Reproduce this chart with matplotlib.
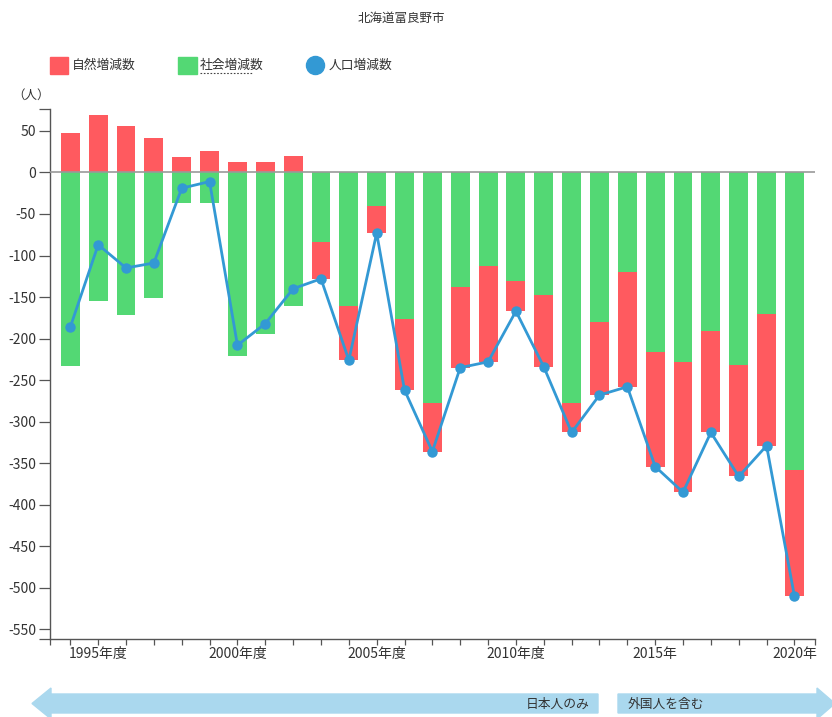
import numpy as np
import matplotlib.pyplot as plt
from matplotlib.patches import Rectangle, Polygon
from matplotlib.lines import Line2D

plt.rcParams['font.family'] = ['Noto Sans CJK JP', 'DejaVu Sans']
plt.rcParams['axes.unicode_minus'] = False

# data
years = list(range(1994, 2021))
natural = [47, 69, 56, 42, 18, 26, 13, 12, 20, -44, -65, -32, -85, -58,
           -97, -115, -36, -87, -35, -88, -138, -138, -157, -122, -134, -159, -152]
social = [-233, -155, -172, -151, -37, -37, -221, -195, -161, -84, -161, -41,
          -177, -278, -138, -113, -131, -147, -278, -180, -120, -216, -228,
          -191, -232, -170, -358]
total = [-186, -87, -115, -109, -19, -11, -208, -182, -140, -128, -226, -73,
         -262, -336, -235, -228, -167, -234, -313, -268, -258, -354, -385,
         -313, -366, -329, -510]
tick_years = [1995, 2000, 2005, 2010, 2015, 2020]
tick_labels = ['1995年度', '2000年度', '2005年度', '2010年度', '2015年', '2020年']
y_ticks = list(range(50, -551, -50))

RED = '#ff5a5f'
GREEN = '#53d874'
BLUE = '#3399d4'
ARROW = '#aad8ee'
TXT = '#333333'

W, H = 832, 717


def fx(x):
    return x / W


def fy(y):
    return 1 - y / H


fig = plt.figure(figsize=(W / 100, H / 100), dpi=100)
ax = fig.add_axes([fx(50), fy(639.3), (815.3 - 50) / W, (639.3 - 109.3) / H])

yrs = np.array(years)
nat = np.array(natural)
soc = np.array(social)
red_bottom = np.where(nat < 0, soc, 0)

ax.bar(yrs, soc, width=0.68, color=GREEN, zorder=2)
ax.bar(yrs, nat, bottom=red_bottom, width=0.68, color=RED, zorder=2)
ax.axhline(0, color='#999999', lw=1.2, zorder=3)
ax.plot(yrs, total, color=BLUE, lw=2.0, marker='o', markersize=6.5, zorder=4)

ax.set_xlim(1993.27, 2020.75)
ax.set_ylim(-562, 76)

ax.set_yticks(y_ticks)
ax.set_yticklabels([str(v) for v in y_ticks])
ax.set_yticks([-562, 76], minor=True)
ax.set_xticks(years)
ax.set_xticklabels([tick_labels[tick_years.index(y)] if y in tick_years else '' for y in years])
ax.set_xticks([1993.27, 2020.75], minor=True)

ax.tick_params(axis='y', which='both', length=8, width=0.9, pad=2, labelsize=10,
               colors='#555555', labelcolor=TXT)
ax.tick_params(axis='x', which='both', length=4.5, width=0.9, pad=1, labelsize=10,
               colors='#555555', labelcolor=TXT)

for s in ['top', 'right']:
    ax.spines[s].set_visible(False)
for s in ['left', 'bottom']:
    ax.spines[s].set_color('#555555')
    ax.spines[s].set_linewidth(1.0)

# title and unit
fig.text(fx(401), fy(18), '北海道富良野市', ha='center', va='center', fontsize=9, color=TXT)
fig.text(fx(31), fy(95), '（人）', ha='center', va='center', fontsize=9, color=TXT)

# legend
fig.add_artist(Rectangle((fx(50), fy(74)), 18 / W, 17 / H, color=RED, transform=fig.transFigure))
fig.text(fx(72), fy(65), '自然増減数', ha='left', va='center', fontsize=9.2, color=TXT)
fig.add_artist(Rectangle((fx(178), fy(74)), 19 / W, 17 / H, color=GREEN, transform=fig.transFigure))
fig.text(fx(200), fy(65), '社会増減数', ha='left', va='center', fontsize=9.2, color=TXT)
fig.add_artist(Line2D([fx(200), fx(252)], [fy(72.5), fy(72.5)], color='#444444', lw=0.8,
                      linestyle=(0, (1.5, 1.5)), transform=fig.transFigure))
fig.add_artist(Line2D([fx(315)], [fy(65)], marker='o', markersize=13, color=BLUE,
                      linestyle='none', transform=fig.transFigure))
fig.text(fx(329), fy(65), '人口増減数', ha='left', va='center', fontsize=9.2, color=TXT)

# bottom arrows
left_arrow = [(32, 703.5), (51, 688), (51, 694), (598, 694), (598, 713), (51, 713), (51, 719)]
right_arrow = [(618, 694), (817, 694), (817, 688), (835, 703.5), (817, 719), (817, 713), (618, 713)]
for pts in (left_arrow, right_arrow):
    fig.add_artist(Polygon([(fx(x), fy(y)) for x, y in pts], closed=True, color=ARROW,
                           transform=fig.transFigure))
fig.text(fx(589), fy(704), '日本人のみ', ha='right', va='center', fontsize=9.2, color=TXT)
fig.text(fx(628), fy(704), '外国人を含む', ha='left', va='center', fontsize=9.2, color=TXT)

fig.savefig('out.png', dpi=100)
